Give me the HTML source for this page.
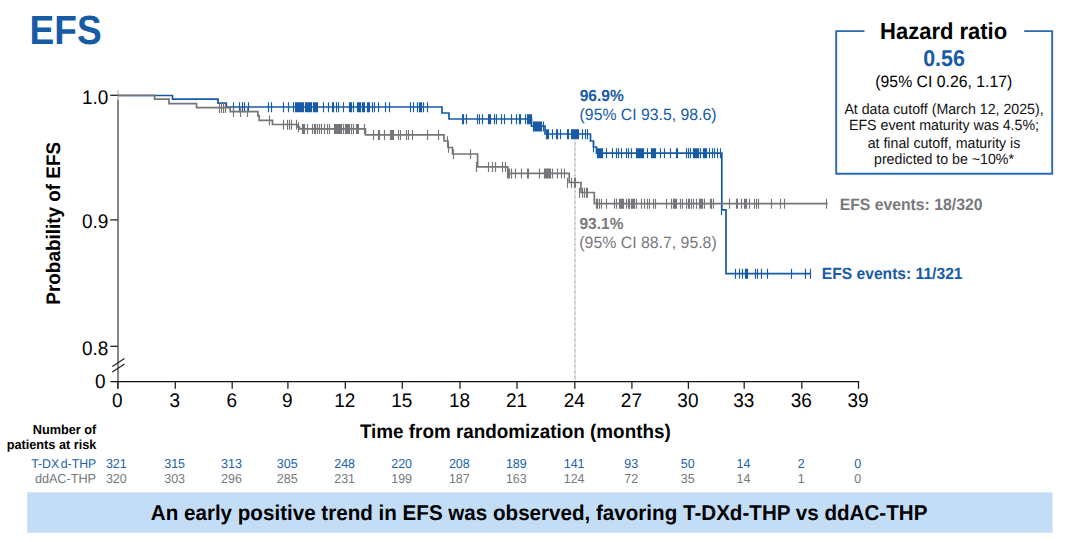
<!DOCTYPE html>
<html><head><meta charset="utf-8"><style>
html,body{margin:0;padding:0;background:#fff;width:1080px;height:542px;overflow:hidden;font-family:"Liberation Sans",sans-serif;}
svg{display:block;text-rendering:geometricPrecision;}
</style></head><body>
<svg width="1080" height="542" viewBox="0 0 1080 542"><text transform="translate(29.6,43.6) scale(1,1.1)" font-family="Liberation Sans" font-size="37.1" fill="#175ba7" font-weight="bold">EFS</text><path d="M864.5,31.1H836.2V173.7H1052.2V31.1H1024.2" fill="none" stroke="#2a6ab2" stroke-width="1.9"/><text transform="translate(943.6,39.0) scale(1,1.05)" font-family="Liberation Sans" font-size="22.0" fill="#000" font-weight="bold" text-anchor="middle">Hazard ratio</text><text transform="translate(944.0,65.8) scale(1,1.065)" font-family="Liberation Sans" font-size="21.4" fill="#175ba7" font-weight="bold" text-anchor="middle">0.56</text><text transform="translate(943.8,87.1) scale(1,1.041)" font-family="Liberation Sans" font-size="15.8" fill="#000" text-anchor="middle">(95% CI 0.26, 1.17)</text><text transform="translate(944,113.9) scale(1,1.041)" font-family="Liberation Sans" font-size="14.2" fill="#111" text-anchor="middle">At data cutoff (March 12, 2025),</text><text transform="translate(944,130.3) scale(1,1.041)" font-family="Liberation Sans" font-size="14.2" fill="#111" text-anchor="middle">EFS event maturity was 4.5%;</text><text transform="translate(944,147.9) scale(1,1.041)" font-family="Liberation Sans" font-size="14.2" fill="#111" text-anchor="middle">at final cutoff, maturity is</text><text transform="translate(944,164.0) scale(1,1.041)" font-family="Liberation Sans" font-size="14.2" fill="#111" text-anchor="middle">predicted to be ~10%*</text><path d="M118,99.6V388.8" stroke="#5f5f5f" stroke-width="1.5" fill="none"/><path d="M118,90.2V99.6" stroke="#c4c4c4" stroke-width="1.5" fill="none"/><path d="M110.5,381.7H859.2" stroke="#111" stroke-width="1.3" fill="none"/><path d="M110.3,95.3H117.8" stroke="#222" stroke-width="1.3"/><path d="M110.3,219.9H117.8" stroke="#222" stroke-width="1.3"/><path d="M110.3,346.3H117.8" stroke="#222" stroke-width="1.3"/><path d="M112.3,366.4L124.5,358.4M112.3,372.1L124.5,364.1" stroke="#222" stroke-width="1.2" fill="none"/><path d="M117.8,381.7V388.8" stroke="#222" stroke-width="1.3"/><path d="M175.3,381.7V388.8" stroke="#222" stroke-width="1.3"/><path d="M232.2,381.7V388.8" stroke="#222" stroke-width="1.3"/><path d="M287.9,381.7V388.8" stroke="#222" stroke-width="1.3"/><path d="M345.3,381.7V388.8" stroke="#222" stroke-width="1.3"/><path d="M402.3,381.7V388.8" stroke="#222" stroke-width="1.3"/><path d="M460,381.7V388.8" stroke="#222" stroke-width="1.3"/><path d="M517,381.7V388.8" stroke="#222" stroke-width="1.3"/><path d="M574.8,381.7V388.8" stroke="#222" stroke-width="1.3"/><path d="M631.9,381.7V388.8" stroke="#222" stroke-width="1.3"/><path d="M688.4,381.7V388.8" stroke="#222" stroke-width="1.3"/><path d="M744.2,381.7V388.8" stroke="#222" stroke-width="1.3"/><path d="M801.8,381.7V388.8" stroke="#222" stroke-width="1.3"/><path d="M858.5,381.7V388.8" stroke="#222" stroke-width="1.3"/><text transform="translate(108.3,104.2) scale(1,1.041)" font-family="Liberation Sans" font-size="19" fill="#000" text-anchor="end">1.0</text><text transform="translate(108.3,228.2) scale(1,1.041)" font-family="Liberation Sans" font-size="19" fill="#000" text-anchor="end">0.9</text><text transform="translate(108.3,355.4) scale(1,1.041)" font-family="Liberation Sans" font-size="19" fill="#000" text-anchor="end">0.8</text><text transform="translate(105.5,388.4) scale(1,1.041)" font-family="Liberation Sans" font-size="19" fill="#000" text-anchor="end">0</text><text transform="translate(117.3,406.8) scale(1,1.041)" font-family="Liberation Sans" font-size="19" fill="#000" text-anchor="middle">0</text><text transform="translate(174.8,406.8) scale(1,1.041)" font-family="Liberation Sans" font-size="19" fill="#000" text-anchor="middle">3</text><text transform="translate(231.7,406.8) scale(1,1.041)" font-family="Liberation Sans" font-size="19" fill="#000" text-anchor="middle">6</text><text transform="translate(287.4,406.8) scale(1,1.041)" font-family="Liberation Sans" font-size="19" fill="#000" text-anchor="middle">9</text><text transform="translate(344.8,406.8) scale(1,1.041)" font-family="Liberation Sans" font-size="19" fill="#000" text-anchor="middle">12</text><text transform="translate(401.8,406.8) scale(1,1.041)" font-family="Liberation Sans" font-size="19" fill="#000" text-anchor="middle">15</text><text transform="translate(459.5,406.8) scale(1,1.041)" font-family="Liberation Sans" font-size="19" fill="#000" text-anchor="middle">18</text><text transform="translate(516.5,406.8) scale(1,1.041)" font-family="Liberation Sans" font-size="19" fill="#000" text-anchor="middle">21</text><text transform="translate(574.3,406.8) scale(1,1.041)" font-family="Liberation Sans" font-size="19" fill="#000" text-anchor="middle">24</text><text transform="translate(631.4,406.8) scale(1,1.041)" font-family="Liberation Sans" font-size="19" fill="#000" text-anchor="middle">27</text><text transform="translate(687.9,406.8) scale(1,1.041)" font-family="Liberation Sans" font-size="19" fill="#000" text-anchor="middle">30</text><text transform="translate(743.7,406.8) scale(1,1.041)" font-family="Liberation Sans" font-size="19" fill="#000" text-anchor="middle">33</text><text transform="translate(801.3,406.8) scale(1,1.041)" font-family="Liberation Sans" font-size="19" fill="#000" text-anchor="middle">36</text><text transform="translate(858.0,406.8) scale(1,1.041)" font-family="Liberation Sans" font-size="19" fill="#000" text-anchor="middle">39</text><text transform="translate(60,223.3) rotate(-90) scale(1,1.041)" font-family="Liberation Sans" font-size="18.9" fill="#000" font-weight="bold" text-anchor="middle">Probability of EFS</text><text transform="translate(515.3,437.7) scale(1,1.041)" font-family="Liberation Sans" font-size="18.87" fill="#000" font-weight="bold" text-anchor="middle">Time from randomization (months)</text><path d="M575,138V381" stroke="#c8c8c8" stroke-width="1" fill="none"/><path d="M575,138V381" stroke="#8f8f8f" stroke-width="1" stroke-dasharray="1,4.3" fill="none"/><path d="M118,95.5H172.5V99.1H218V103.1H226.3V107.0H442V113H449V119H531.5V126.2H545V134H590.5V141H593.5V147H596.5V153.2H721.8V209.8H726.0V273.6H810.75" stroke="#175ba7" stroke-width="1.7" fill="none"/><path d="M232.93,102.2h1.15v10.0h-1.15ZM238.93,102.2h1.15v10.0h-1.15ZM241.93,102.2h1.15v10.0h-1.15ZM243.93,102.2h1.15v10.0h-1.15ZM247.93,102.2h1.15v10.0h-1.15ZM267.93,102.2h1.15v10.0h-1.15ZM270.93,102.2h1.15v10.0h-1.15ZM282.93,102.2h1.15v10.0h-1.15ZM287.93,102.2h1.15v10.0h-1.15ZM292.93,102.2h1.15v10.0h-1.15ZM294.93,102.2H304.07V112.2H294.93ZM304.93,102.2H312.07V112.2H304.93ZM312.93,102.2H318.07V112.2H312.93ZM322.93,102.2h1.15v10.0h-1.15ZM327.93,102.2h1.15v10.0h-1.15ZM331.93,102.2h1.15v10.0h-1.15ZM332.93,102.2h1.15v10.0h-1.15ZM335.93,102.2h1.15v10.0h-1.15ZM337.93,102.2h1.15v10.0h-1.15ZM342.93,102.2h1.15v10.0h-1.15ZM348.93,102.2H352.07V112.2H348.93ZM352.93,102.2h1.15v10.0h-1.15ZM356.93,102.2H361.07V112.2H356.93ZM361.93,102.2H365.07V112.2H361.93ZM366.93,102.2H370.07V112.2H366.93ZM371.93,102.2h1.15v10.0h-1.15ZM373.93,102.2h1.15v10.0h-1.15ZM377.93,102.2h1.15v10.0h-1.15ZM384.93,102.2h1.15v10.0h-1.15ZM388.93,102.2h1.15v10.0h-1.15ZM409.93,102.2h1.15v10.0h-1.15ZM412.93,102.2h1.15v10.0h-1.15ZM416.93,102.2h1.15v10.0h-1.15ZM418.93,102.2h1.15v10.0h-1.15ZM419.93,102.2h1.15v10.0h-1.15ZM420.93,102.2h1.15v10.0h-1.15ZM422.93,102.2h1.15v10.0h-1.15ZM426.93,102.2h1.15v10.0h-1.15ZM461.93,114.2h1.15v10.0h-1.15ZM462.93,114.2h1.15v10.0h-1.15ZM465.93,114.2h1.15v10.0h-1.15ZM476.93,114.2h1.15v10.0h-1.15ZM478.93,114.2h1.15v10.0h-1.15ZM481.93,114.2h1.15v10.0h-1.15ZM487.93,114.2h1.15v10.0h-1.15ZM488.93,114.2h1.15v10.0h-1.15ZM489.93,114.2h1.15v10.0h-1.15ZM493.93,114.2h1.15v10.0h-1.15ZM495.93,114.2h1.15v10.0h-1.15ZM500.93,114.2h1.15v10.0h-1.15ZM503.93,114.2h1.15v10.0h-1.15ZM510.93,114.2h1.15v10.0h-1.15ZM515.92,114.2h1.15v10.0h-1.15ZM518.92,114.2h1.15v10.0h-1.15ZM519.92,114.2h1.15v10.0h-1.15ZM524.92,114.2h1.15v10.0h-1.15ZM526.92,114.2H532.08V124.2H526.92ZM532.92,121.4H541.08V131.4H532.92ZM540.92,121.4h1.15v10.0h-1.15ZM542.92,121.4h1.15v10.0h-1.15ZM545.92,129.2H549.08V139.2H545.92ZM551.92,129.2h1.15v10.0h-1.15ZM555.92,129.2h1.15v10.0h-1.15ZM556.92,129.2h1.15v10.0h-1.15ZM559.92,129.2h1.15v10.0h-1.15ZM566.92,129.2h1.15v10.0h-1.15ZM567.92,129.2h1.15v10.0h-1.15ZM570.92,129.2H579.08V139.2H570.92ZM581.92,129.2h1.15v10.0h-1.15ZM584.92,129.2h1.15v10.0h-1.15ZM586.92,129.2h1.15v10.0h-1.15ZM592.92,142.2h1.15v10.0h-1.15ZM596.92,148.3H603.08V158.3H596.92ZM605.92,148.3h1.15v10.0h-1.15ZM611.92,148.3h1.15v10.0h-1.15ZM615.92,148.3h1.15v10.0h-1.15ZM617.92,148.3h1.15v10.0h-1.15ZM620.92,148.3h1.15v10.0h-1.15ZM625.92,148.3h1.15v10.0h-1.15ZM627.92,148.3h1.15v10.0h-1.15ZM630.92,148.3h1.15v10.0h-1.15ZM635.92,148.3H644.08V158.3H635.92ZM646.92,148.3h1.15v10.0h-1.15ZM650.92,148.3H656.08V158.3H650.92ZM659.92,148.3h1.15v10.0h-1.15ZM663.92,148.3h1.15v10.0h-1.15ZM669.92,148.3h1.15v10.0h-1.15ZM675.92,148.3h1.15v10.0h-1.15ZM676.92,148.3h1.15v10.0h-1.15ZM685.92,148.3h1.15v10.0h-1.15ZM687.92,148.3h1.15v10.0h-1.15ZM689.92,148.3h1.15v10.0h-1.15ZM692.92,148.3H699.08V158.3H692.92ZM699.92,148.3h1.15v10.0h-1.15ZM702.92,148.3H707.08V158.3H702.92ZM708.92,148.3h1.15v10.0h-1.15ZM711.92,148.3h1.15v10.0h-1.15ZM713.92,148.3h1.15v10.0h-1.15ZM716.92,148.3h1.15v10.0h-1.15ZM719.92,148.3h1.15v10.0h-1.15ZM720.92,205.0h1.15v10.0h-1.15ZM734.92,268.8h1.15v10.0h-1.15ZM738.92,268.8h1.15v10.0h-1.15ZM741.92,268.8h1.15v10.0h-1.15ZM744.92,268.8h1.15v10.0h-1.15ZM745.92,268.8h1.15v10.0h-1.15ZM746.92,268.8h1.15v10.0h-1.15ZM754.92,268.8h1.15v10.0h-1.15ZM756.92,268.8h1.15v10.0h-1.15ZM760.92,268.8h1.15v10.0h-1.15ZM766.92,268.8h1.15v10.0h-1.15ZM790.92,268.8h1.15v10.0h-1.15ZM804.92,268.8h1.15v10.0h-1.15ZM809.92,268.8h1.15v10.0h-1.15Z" fill="#175ba7"/><path d="M118,95.3H154.6V99.2H169V103.6H196.5V107.7H230.2V111.7H257.9V115.8H259.2V120.3H272.5V124.5H297.5V127H299.5V128.8H365.5V134.8H444V141H448V147.5H452.5V154H477.6V166.8H507.8V173.4H569.2V182.5H581V192.5H594.3V203.6H827.8" stroke="#76767a" stroke-width="1.7" fill="none"/><path d="M218.93,102.9h1.15v10.0h-1.15ZM220.93,102.9h1.15v10.0h-1.15ZM222.93,102.9h1.15v10.0h-1.15ZM224.93,102.9h1.15v10.0h-1.15ZM232.93,106.9h1.15v10.0h-1.15ZM239.93,106.9h1.15v10.0h-1.15ZM246.93,106.9h1.15v10.0h-1.15ZM268.93,115.5h1.15v10.0h-1.15ZM282.93,119.7h1.15v10.0h-1.15ZM286.93,119.7h1.15v10.0h-1.15ZM288.93,119.7h1.15v10.0h-1.15ZM290.93,119.7h1.15v10.0h-1.15ZM295.93,119.7h1.15v10.0h-1.15ZM297.93,122.2h1.15v10.0h-1.15ZM301.93,124.0H305.07V134.0H301.93ZM306.93,124.0h1.15v10.0h-1.15ZM311.93,124.0h1.15v10.0h-1.15ZM313.93,124.0h1.15v10.0h-1.15ZM314.93,124.0h1.15v10.0h-1.15ZM316.93,124.0h1.15v10.0h-1.15ZM318.93,124.0h1.15v10.0h-1.15ZM320.93,124.0h1.15v10.0h-1.15ZM323.93,124.0h1.15v10.0h-1.15ZM326.93,124.0h1.15v10.0h-1.15ZM328.93,124.0h1.15v10.0h-1.15ZM333.93,124.0h1.15v10.0h-1.15ZM334.93,124.0H342.07V134.0H334.93ZM342.93,124.0h1.15v10.0h-1.15ZM344.93,124.0H350.07V134.0H344.93ZM350.93,124.0h1.15v10.0h-1.15ZM352.93,124.0h1.15v10.0h-1.15ZM355.93,124.0H359.07V134.0H355.93ZM363.93,124.0h1.15v10.0h-1.15ZM372.93,130.0h1.15v10.0h-1.15ZM377.93,130.0h1.15v10.0h-1.15ZM378.93,130.0h1.15v10.0h-1.15ZM383.93,130.0h1.15v10.0h-1.15ZM389.93,130.0H394.07V140.0H389.93ZM397.93,130.0h1.15v10.0h-1.15ZM399.93,130.0h1.15v10.0h-1.15ZM405.93,130.0h1.15v10.0h-1.15ZM407.93,130.0h1.15v10.0h-1.15ZM411.93,130.0h1.15v10.0h-1.15ZM426.93,130.0h1.15v10.0h-1.15ZM437.93,130.0h1.15v10.0h-1.15ZM446.93,136.2h1.15v10.0h-1.15ZM447.93,142.7h1.15v10.0h-1.15ZM452.93,149.2h1.15v10.0h-1.15ZM469.93,149.2h1.15v10.0h-1.15ZM475.93,162.0h1.15v10.0h-1.15ZM487.93,162.0h1.15v10.0h-1.15ZM491.93,162.0h1.15v10.0h-1.15ZM494.93,162.0h1.15v10.0h-1.15ZM501.93,162.0h1.15v10.0h-1.15ZM504.93,162.0h1.15v10.0h-1.15ZM506.93,168.6H510.07V178.6H506.93ZM510.93,168.6h1.15v10.0h-1.15ZM514.92,168.6h1.15v10.0h-1.15ZM520.92,168.6h1.15v10.0h-1.15ZM526.92,168.6h1.15v10.0h-1.15ZM527.92,168.6h1.15v10.0h-1.15ZM538.92,168.6h1.15v10.0h-1.15ZM543.92,168.6H551.08V178.6H543.92ZM551.92,168.6h1.15v10.0h-1.15ZM556.92,168.6h1.15v10.0h-1.15ZM560.92,168.6h1.15v10.0h-1.15ZM563.92,168.6h1.15v10.0h-1.15ZM566.92,177.7h1.15v10.0h-1.15ZM570.92,177.7h1.15v10.0h-1.15ZM573.92,177.7h1.15v10.0h-1.15ZM574.92,177.7h1.15v10.0h-1.15ZM578.92,187.7h1.15v10.0h-1.15ZM581.92,187.7h1.15v10.0h-1.15ZM583.92,187.7h1.15v10.0h-1.15ZM585.92,187.7h1.15v10.0h-1.15ZM586.92,187.7h1.15v10.0h-1.15ZM595.92,198.8h1.15v10.0h-1.15ZM596.92,198.8h1.15v10.0h-1.15ZM598.92,198.8h1.15v10.0h-1.15ZM600.92,198.8h1.15v10.0h-1.15ZM605.92,198.8h1.15v10.0h-1.15ZM613.92,198.8h1.15v10.0h-1.15ZM615.92,198.8h1.15v10.0h-1.15ZM618.92,198.8H624.08V208.8H618.92ZM625.92,198.8h1.15v10.0h-1.15ZM627.92,198.8h1.15v10.0h-1.15ZM628.92,198.8h1.15v10.0h-1.15ZM630.92,198.8H635.08V208.8H630.92ZM635.92,198.8h1.15v10.0h-1.15ZM640.92,198.8h1.15v10.0h-1.15ZM643.92,198.8h1.15v10.0h-1.15ZM646.92,198.8h1.15v10.0h-1.15ZM648.92,198.8h1.15v10.0h-1.15ZM652.92,198.8h1.15v10.0h-1.15ZM654.92,198.8h1.15v10.0h-1.15ZM665.92,198.8h1.15v10.0h-1.15ZM670.92,198.8h1.15v10.0h-1.15ZM672.92,198.8H677.08V208.8H672.92ZM679.92,198.8h1.15v10.0h-1.15ZM681.92,198.8h1.15v10.0h-1.15ZM685.92,198.8h1.15v10.0h-1.15ZM687.92,198.8h1.15v10.0h-1.15ZM688.92,198.8h1.15v10.0h-1.15ZM690.92,198.8h1.15v10.0h-1.15ZM692.92,198.8h1.15v10.0h-1.15ZM695.92,198.8h1.15v10.0h-1.15ZM698.92,198.8h1.15v10.0h-1.15ZM699.92,198.8h1.15v10.0h-1.15ZM700.92,198.8h1.15v10.0h-1.15ZM701.92,198.8h1.15v10.0h-1.15ZM703.92,198.8h1.15v10.0h-1.15ZM709.92,198.8H712.08V208.8H709.92ZM712.92,198.8h1.15v10.0h-1.15ZM728.92,198.8h1.15v10.0h-1.15ZM735.92,198.8h1.15v10.0h-1.15ZM736.92,198.8h1.15v10.0h-1.15ZM740.92,198.8h1.15v10.0h-1.15ZM743.92,198.8H747.08V208.8H743.92ZM748.92,198.8h1.15v10.0h-1.15ZM753.92,198.8h1.15v10.0h-1.15ZM755.92,198.8h1.15v10.0h-1.15ZM757.92,198.8h1.15v10.0h-1.15ZM770.92,198.8h1.15v10.0h-1.15ZM779.92,198.8h1.15v10.0h-1.15ZM783.92,198.8h1.15v10.0h-1.15ZM825.92,198.8h1.15v10.0h-1.15Z" fill="#76767a"/><text transform="translate(579.7,100.7) scale(1,1.041)" font-family="Liberation Sans" font-size="15.55" fill="#175ba7" font-weight="bold">96.9%</text><text transform="translate(579.6,119.7) scale(1,1.041)" font-family="Liberation Sans" font-size="15.8" fill="#175ba7">(95% CI 93.5, 98.6)</text><text transform="translate(579.5,228.7) scale(1,1.041)" font-family="Liberation Sans" font-size="15.5" fill="#78787c" font-weight="bold">93.1%</text><text transform="translate(579.3,247.5) scale(1,1.041)" font-family="Liberation Sans" font-size="15.85" fill="#78787c">(95% CI 88.7, 95.8)</text><text transform="translate(839.7,210) scale(1,1.041)" font-family="Liberation Sans" font-size="15.76" fill="#78787c" font-weight="bold">EFS events: 18/320</text><text transform="translate(821.8,278.7) scale(1,1.041)" font-family="Liberation Sans" font-size="15.63" fill="#175ba7" font-weight="bold">EFS events: 11/321</text><text transform="translate(96.3,433.5) scale(1,1.041)" font-family="Liberation Sans" font-size="12.7" fill="#000" font-weight="bold" text-anchor="end">Number of</text><text transform="translate(96.3,448.6) scale(1,1.041)" font-family="Liberation Sans" font-size="12.7" fill="#000" font-weight="bold" text-anchor="end">patients at risk</text><text transform="translate(96.3,467.9) scale(1,1.041)" font-family="Liberation Sans" font-size="12.3" fill="#2063ae" text-anchor="end">T-DX<tspan dx="1.6">d-THP</tspan></text><text transform="translate(96.0,482.8) scale(1,1.041)" font-family="Liberation Sans" font-size="12.65" fill="#78787c" text-anchor="end">ddAC-THP</text><text transform="translate(116.3,467.9) scale(1,1.041)" font-family="Liberation Sans" font-size="12.5" fill="#2063ae" text-anchor="middle">321</text><text transform="translate(116.3,482.9) scale(1,1.041)" font-family="Liberation Sans" font-size="12.5" fill="#78787c" text-anchor="middle">320</text><text transform="translate(174.60000000000002,467.9) scale(1,1.041)" font-family="Liberation Sans" font-size="12.5" fill="#2063ae" text-anchor="middle">315</text><text transform="translate(174.60000000000002,482.9) scale(1,1.041)" font-family="Liberation Sans" font-size="12.5" fill="#78787c" text-anchor="middle">303</text><text transform="translate(231.5,467.9) scale(1,1.041)" font-family="Liberation Sans" font-size="12.5" fill="#2063ae" text-anchor="middle">313</text><text transform="translate(231.5,482.9) scale(1,1.041)" font-family="Liberation Sans" font-size="12.5" fill="#78787c" text-anchor="middle">296</text><text transform="translate(287.2,467.9) scale(1,1.041)" font-family="Liberation Sans" font-size="12.5" fill="#2063ae" text-anchor="middle">305</text><text transform="translate(287.2,482.9) scale(1,1.041)" font-family="Liberation Sans" font-size="12.5" fill="#78787c" text-anchor="middle">285</text><text transform="translate(344.6,467.9) scale(1,1.041)" font-family="Liberation Sans" font-size="12.5" fill="#2063ae" text-anchor="middle">248</text><text transform="translate(344.6,482.9) scale(1,1.041)" font-family="Liberation Sans" font-size="12.5" fill="#78787c" text-anchor="middle">231</text><text transform="translate(401.6,467.9) scale(1,1.041)" font-family="Liberation Sans" font-size="12.5" fill="#2063ae" text-anchor="middle">220</text><text transform="translate(401.6,482.9) scale(1,1.041)" font-family="Liberation Sans" font-size="12.5" fill="#78787c" text-anchor="middle">199</text><text transform="translate(459.3,467.9) scale(1,1.041)" font-family="Liberation Sans" font-size="12.5" fill="#2063ae" text-anchor="middle">208</text><text transform="translate(459.3,482.9) scale(1,1.041)" font-family="Liberation Sans" font-size="12.5" fill="#78787c" text-anchor="middle">187</text><text transform="translate(516.3,467.9) scale(1,1.041)" font-family="Liberation Sans" font-size="12.5" fill="#2063ae" text-anchor="middle">189</text><text transform="translate(516.3,482.9) scale(1,1.041)" font-family="Liberation Sans" font-size="12.5" fill="#78787c" text-anchor="middle">163</text><text transform="translate(574.0999999999999,467.9) scale(1,1.041)" font-family="Liberation Sans" font-size="12.5" fill="#2063ae" text-anchor="middle">141</text><text transform="translate(574.0999999999999,482.9) scale(1,1.041)" font-family="Liberation Sans" font-size="12.5" fill="#78787c" text-anchor="middle">124</text><text transform="translate(631.1999999999999,467.9) scale(1,1.041)" font-family="Liberation Sans" font-size="12.5" fill="#2063ae" text-anchor="middle">93</text><text transform="translate(631.1999999999999,482.9) scale(1,1.041)" font-family="Liberation Sans" font-size="12.5" fill="#78787c" text-anchor="middle">72</text><text transform="translate(687.6999999999999,467.9) scale(1,1.041)" font-family="Liberation Sans" font-size="12.5" fill="#2063ae" text-anchor="middle">50</text><text transform="translate(687.6999999999999,482.9) scale(1,1.041)" font-family="Liberation Sans" font-size="12.5" fill="#78787c" text-anchor="middle">35</text><text transform="translate(743.5,467.9) scale(1,1.041)" font-family="Liberation Sans" font-size="12.5" fill="#2063ae" text-anchor="middle">14</text><text transform="translate(743.5,482.9) scale(1,1.041)" font-family="Liberation Sans" font-size="12.5" fill="#78787c" text-anchor="middle">14</text><text transform="translate(801.0999999999999,467.9) scale(1,1.041)" font-family="Liberation Sans" font-size="12.5" fill="#2063ae" text-anchor="middle">2</text><text transform="translate(801.0999999999999,482.9) scale(1,1.041)" font-family="Liberation Sans" font-size="12.5" fill="#78787c" text-anchor="middle">1</text><text transform="translate(857.8,467.9) scale(1,1.041)" font-family="Liberation Sans" font-size="12.5" fill="#2063ae" text-anchor="middle">0</text><text transform="translate(857.8,482.9) scale(1,1.041)" font-family="Liberation Sans" font-size="12.5" fill="#78787c" text-anchor="middle">0</text><rect x="27.2" y="492.3" width="1025.3" height="40.4" fill="#c3ddf6"/><text transform="translate(539.1,520.2) scale(1,1.041)" font-family="Liberation Sans" font-size="20.6" fill="#000" font-weight="bold" text-anchor="middle">An early positive trend in EFS was observed, favoring T-DXd-THP vs ddAC-THP</text></svg>
</body></html>
